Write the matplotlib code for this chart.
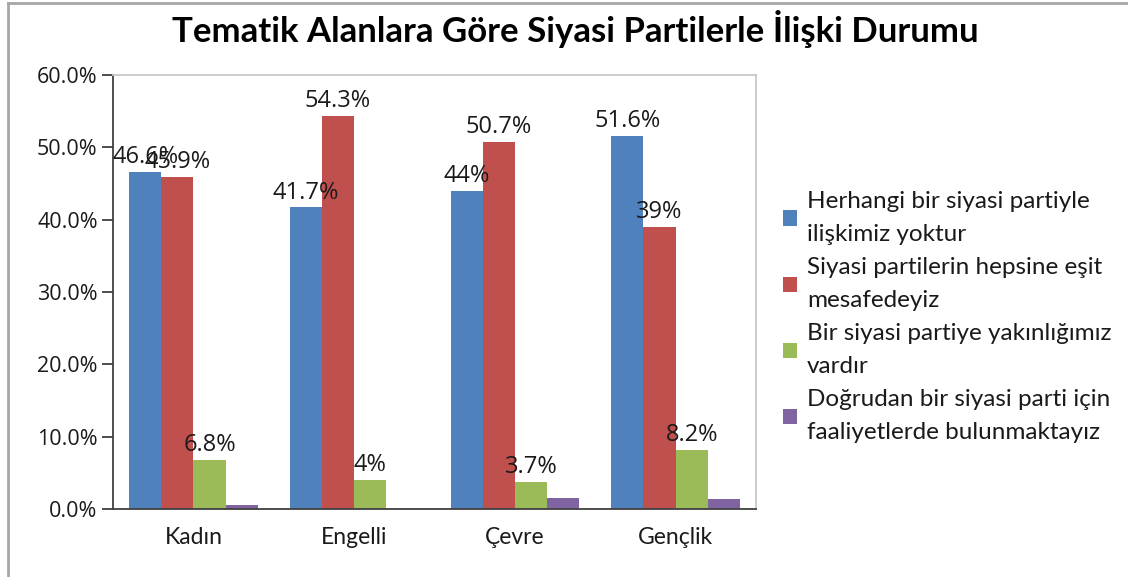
import numpy as np
import matplotlib.pyplot as plt
from matplotlib.lines import Line2D
from matplotlib.ticker import FuncFormatter

plt.rcParams['font.family'] = ['Lato', 'DejaVu Sans']

# Tematik alanlar ve yanıt oranları (%)
categories = ['Kadın', 'Engelli', 'Çevre', 'Gençlik']
series_names = [
    'Herhangi bir siyasi partiyle\nilişkimiz yoktur',
    'Siyasi partilerin hepsine eşit\nmesafedeyiz',
    'Bir siyasi partiye yakınlığımız\nvardır',
    'Doğrudan bir siyasi parti için\nfaaliyetlerde bulunmaktayız',
]
no_relation = [46.6, 41.7, 44, 51.6]
equal_distance = [45.9, 54.3, 50.7, 39]
close_to_party = [6.8, 4, 3.7, 8.2]
active_for_party = [0.6, 0, 1.5, 1.4]

series = [no_relation, equal_distance, close_to_party, active_for_party]
colors = ['#4F81BD', '#C0504D', '#9BBB59', '#8064A2']
show_labels = [True, True, True, False]

num_font = ['Open Sans', 'DejaVu Sans']

fig = plt.figure(figsize=(11.28, 5.77), dpi=100)
ax = fig.add_axes([0.1002, 0.1179, 0.5700, 0.7521])

x = np.arange(len(categories))
width = 0.2
offsets = (np.arange(len(series)) - 1.5) * width

for vals, off, col, name, lab in zip(series, offsets, colors, series_names, show_labels):
    bars = ax.bar(x + off, vals, width, color=col, label=name, edgecolor='none')
    if lab:
        ax.bar_label(bars, labels=[f'{v:g}%' for v in vals], padding=2,
                     fontsize=17, color='#1a1a1a', family=num_font)

ax.set_xlim(-0.5, len(categories) - 0.5)
ax.set_ylim(0, 60)
ax.set_yticks(np.arange(0, 61, 10))
ax.yaxis.set_major_formatter(FuncFormatter(lambda v, p: f'{v:.1f}%'))
ax.set_xticks(x)
ax.set_xticklabels(categories)

ax.tick_params(axis='x', length=0, pad=13, labelsize=16.5, labelcolor='#1a1a1a')
ax.tick_params(axis='y', length=8, width=1.3, pad=3, labelsize=15.5,
               labelcolor='#1a1a1a', color='#404040',
               labelfontfamily='Open Sans')

ax.spines['left'].set_color('#404040')
ax.spines['left'].set_linewidth(1.3)
ax.spines['bottom'].set_color('#404040')
ax.spines['bottom'].set_linewidth(1.3)
for side in ('top', 'right'):
    ax.spines[side].set_color('#c8c8c8')
    ax.spines[side].set_linewidth(1.3)

fig.text(0.51, 0.950, 'Tematik Alanlara Göre Siyasi Partilerle İlişki Durumu',
         ha='center', va='center', fontsize=25, fontweight='bold', color='black')

leg = ax.legend(loc='center left', bbox_to_anchor=(0.694, 0.45),
                bbox_transform=fig.transFigure, frameon=False, fontsize=17.5,
                handlelength=0.6, handleheight=0.6, handletextpad=0.4,
                labelspacing=0.5, borderpad=0, borderaxespad=0)
for t in leg.get_texts():
    t.set_linespacing(1.7)
    t.set_color('#1a1a1a')

# outer chart border (left and top edge)
fig.add_artist(Line2D([0.0075, 0.0075], [0, 0.995], color='#a6a6a6', lw=2,
                      transform=fig.transFigure))
fig.add_artist(Line2D([0.0075, 1.0], [0.995, 0.995], color='#a6a6a6', lw=2,
                      transform=fig.transFigure))

fig.savefig('out.png', dpi=100, facecolor='white')
